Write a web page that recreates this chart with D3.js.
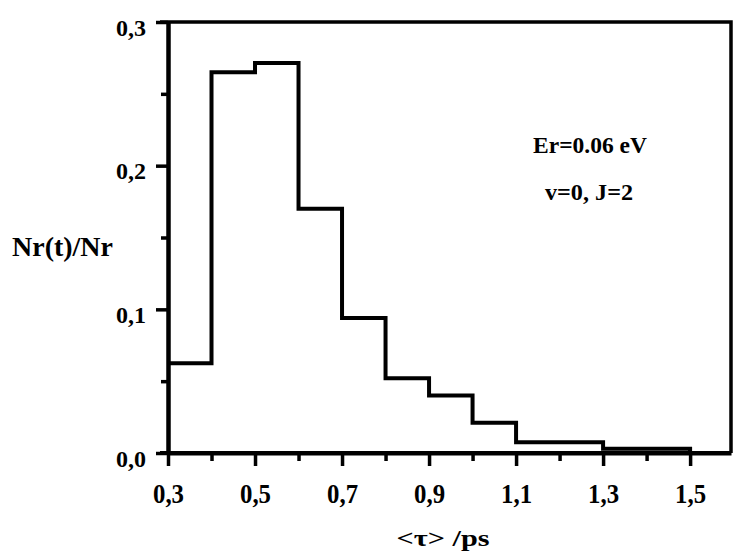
<!DOCTYPE html>
<html>
<head>
<meta charset="utf-8">
<script src="https://cdn.jsdelivr.net/npm/d3@7"></script>
<style>
  html, body { margin: 0; padding: 0; background: #fff; }
  svg { display: block; }
  text { font-family: "Liberation Serif", "DejaVu Serif", serif; font-weight: bold; fill: #000; }
</style>
</head>
<body>
<svg width="733" height="554"></svg>
<script>
// histogram bins (lower edge of each 0.1 ps bin) and counts
const binStarts = [0.3, 0.4, 0.5, 0.6, 0.7, 0.8, 0.9, 1.0, 1.1, 1.2, 1.3, 1.4]
const binValues = [0.0625, 0.265, 0.2715, 0.170, 0.094, 0.052, 0.040, 0.021, 0.0075, 0.0075, 0.003, 0.003]
const binWidth = 0.1

const xMajor = [0.3, 0.5, 0.7, 0.9, 1.1, 1.3, 1.5]
const xMinor = [0.4, 0.6, 0.8, 1.0, 1.2, 1.4]
const yMajor = [0.0, 0.1, 0.2, 0.3]
const yMinor = [0.05, 0.15, 0.25]

const svg = d3.select('svg')
const plotLeft = 168, plotRight = 731, plotTop = 22, plotBottom = 453

const x = d3.scaleLinear().domain([0.3, 1.594]).range([plotLeft, plotRight])
const y = d3.scaleLinear().domain([0, 0.3]).range([plotBottom, plotTop])

// comma as decimal mark, like the original
const fmt = d3.formatLocale({ decimal: ',', thousands: '.', grouping: [3], currency: ['', ''] }).format('.1f')

const g = svg.append('g')

//Frame (top + right)
g.append('path')
  .attr('d', `M${plotLeft - 8},${plotTop} H${plotRight} V${plotBottom}`)
  .attr('fill', 'none')
  .attr('stroke', '#000')
  .attr('stroke-width', 3.5)

//Minor ticks first, each axis in its own group
g.append('g')
  .attr('class', 'minor')
  .attr('transform', `translate(0,${plotBottom})`)
  .call(d3.axisBottom(x).tickValues(xMinor).tickFormat('').tickSize(8).tickSizeOuter(0))

g.append('g')
  .attr('class', 'minor')
  .attr('transform', `translate(${plotLeft},0)`)
  .call(d3.axisLeft(y).tickValues(yMinor).tickFormat('').tickSize(7).tickSizeOuter(0))

//Bottom axis
const xAxis = g.append('g').attr('transform', `translate(0,${plotBottom})`)
xAxis.call(d3.axisBottom(x).tickValues(xMajor).tickFormat(fmt).tickSize(13).tickSizeOuter(0))
xAxis.select('.domain').attr('d', `M${plotLeft - 8},0H${plotRight}`)
xAxis.selectAll('.tick text')
  .attr('y', 50)
  .attr('dy', 0)
  .attr('font-size', 28)
  .attr('textLength', 31)
  .attr('lengthAdjust', 'spacingAndGlyphs')
  .attr('font-family', '"Liberation Serif", serif')

//Left axis
const yAxis = g.append('g').attr('transform', `translate(${plotLeft},0)`)
yAxis.call(d3.axisLeft(y).tickValues(yMajor).tickFormat(fmt).tickSize(12).tickSizeOuter(0))
yAxis.selectAll('.tick text')
  .attr('x', -22)
  .attr('dy', '0.55em')
  .attr('font-size', 24)
  .attr('font-family', '"Liberation Serif", serif')

svg.selectAll('.domain').attr('stroke', '#000').attr('stroke-width', 4)
svg.selectAll('.tick line').attr('stroke', '#000').attr('stroke-width', 3.5)

//Histogram outline
let d = `M${x(binStarts[0])},${y(binValues[0])}`
binStarts.forEach((b, i) => {
  if (i > 0) d += `V${y(binValues[i])}`
  d += `H${x(b + binWidth)}`
})
d += `V${y(0)}`
g.append('path')
  .attr('d', d)
  .attr('fill', 'none')
  .attr('stroke', '#000')
  .attr('stroke-width', 4)
  .attr('stroke-linejoin', 'miter')

//Axis titles
svg.append('text')
  .attr('x', 12).attr('y', 256)
  .attr('font-size', 27)
  .attr('textLength', 101)
  .attr('lengthAdjust', 'spacingAndGlyphs')
  .text('Nr(t)/Nr')

svg.append('text')
  .attr('x', 443).attr('y', 546)
  .attr('text-anchor', 'middle')
  .attr('font-size', 24)
  .attr('textLength', 93)
  .attr('lengthAdjust', 'spacingAndGlyphs')
  .text('<τ> /ps')

//Annotation
svg.append('text')
  .attr('x', 590).attr('y', 153)
  .attr('text-anchor', 'middle')
  .attr('font-size', 23)
  .attr('textLength', 114)
  .attr('lengthAdjust', 'spacingAndGlyphs')
  .text('Er=0.06 eV')

svg.append('text')
  .attr('x', 589).attr('y', 200)
  .attr('text-anchor', 'middle')
  .attr('font-size', 23)
  .attr('textLength', 88)
  .attr('lengthAdjust', 'spacingAndGlyphs')
  .text('v=0, J=2')
</script>
</body>
</html>
